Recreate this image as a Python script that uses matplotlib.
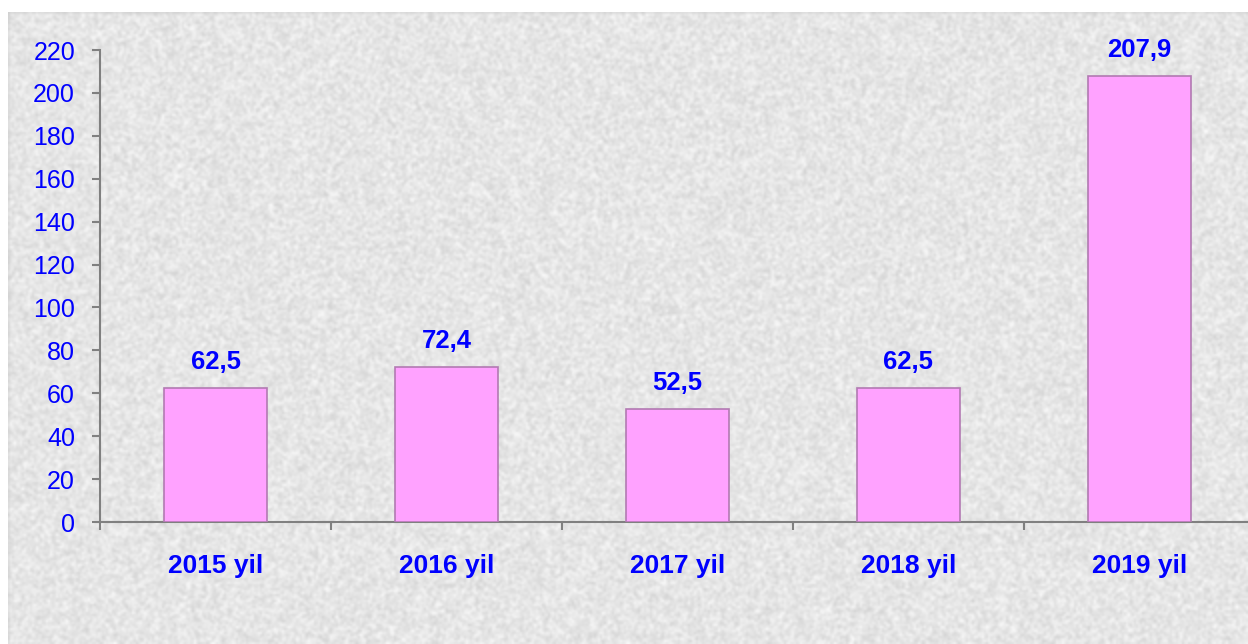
import numpy as np
import matplotlib
matplotlib.use("Agg")
import matplotlib.pyplot as plt

categories = ["2015 yil", "2016 yil", "2017 yil", "2018 yil", "2019 yil"]
values = [62.5, 72.4, 52.5, 62.5, 207.9]
value_labels = ["62,5", "72,4", "52,5", "62,5", "207,9"]
yticks = list(range(0, 221, 20))

W, H = 1248, 644
fig = plt.figure(figsize=(W / 100, H / 100), dpi=100, facecolor="white")

# textured grey background (deterministic hash pattern)
bg = fig.add_axes([8 / W, 0, 1 - 8 / W, 1 - 12 / H])
yy, xx = np.mgrid[0:316, 0:620].astype(float)
h = np.sin(xx * 12.9898 + yy * 78.233) * 43758.5453
h = h - np.floor(h)
k = np.ones(2) / 2
h = np.apply_along_axis(lambda r: np.convolve(r, k, mode="same"), 1, h)
h = np.apply_along_axis(lambda c: np.convolve(c, k, mode="same"), 0, h)
tex = 0.90 + (h - 0.5) * 0.16
bg.imshow(tex, cmap="gray", vmin=0, vmax=1, aspect="auto", interpolation="bilinear")
bg.set_axis_off()

left = 100 / W
bottom = 1 - 522 / H
top = 1 - 50 / H
unit = 231 / W
ax = fig.add_axes([left, bottom, unit * 5, top - bottom])
ax.patch.set_alpha(0)

x = np.arange(len(categories))
ax.bar(x, values, width=0.45, color="#ffa2ff", edgecolor="#b27ab2", linewidth=1.2, zorder=3)

for xi, v, lab in zip(x, values, value_labels):
    ax.annotate(lab, (xi, v), xytext=(0, 10), textcoords="offset points",
                ha="center", va="bottom", color="#0000ff", fontsize=18.5,
                fontweight="bold", family="Liberation Sans")

ax.set_xlim(-0.5, 4.5)
ax.set_ylim(0, 220)
ax.set_yticks(yticks)
ax.set_yticklabels([str(t) for t in yticks], color="#0000ff", fontsize=18,
                   family="Liberation Sans")
ax.set_xticks(np.arange(-0.5, 5, 1.0))
ax.set_xticklabels([])
ax.set_xticks(x, minor=True)
ax.set_xticklabels(categories, minor=True, color="#0000ff", fontsize=19,
                   fontweight="bold", family="Liberation Sans")
ax.tick_params(axis="x", which="minor", length=0, pad=23)
ax.tick_params(axis="x", which="major", length=6, color="#808080", width=1.5, direction="out")
ax.tick_params(axis="y", length=6, color="#808080", width=1.5, direction="out", pad=12)
for s in ["top", "right"]:
    ax.spines[s].set_visible(False)
for s in ["left", "bottom"]:
    ax.spines[s].set_color("#808080")
    ax.spines[s].set_linewidth(1.5)

fig.savefig("out.png", dpi=100, facecolor="white")
